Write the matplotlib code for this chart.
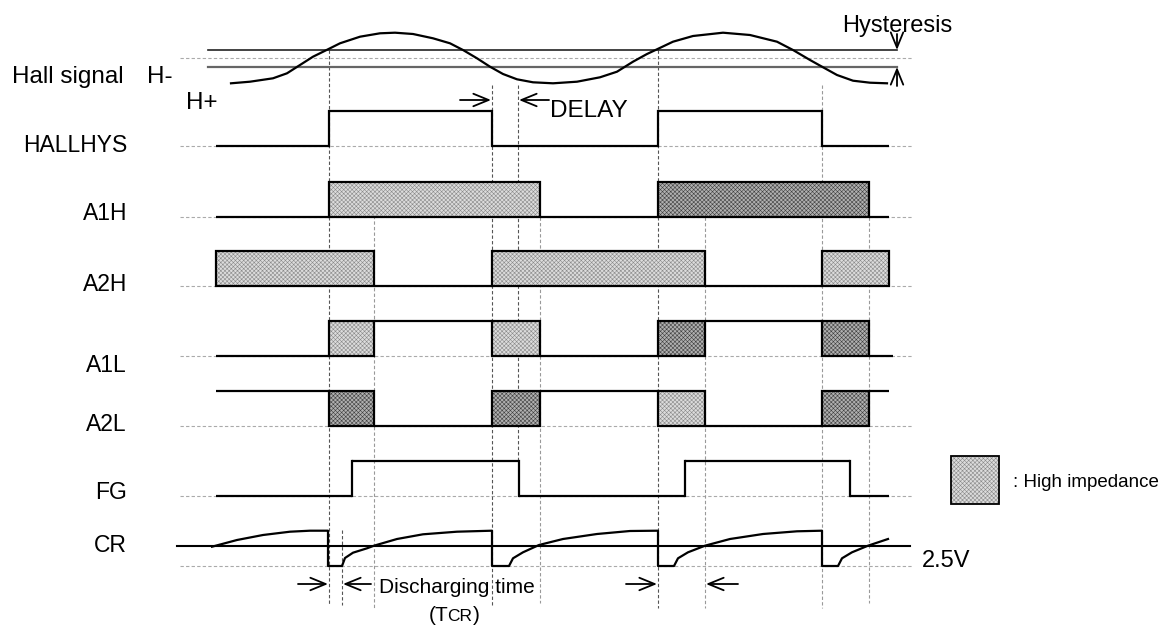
import matplotlib.pyplot as plt
from matplotlib.patches import Rectangle

plt.rcParams['font.family'] = ['Liberation Sans', 'DejaVu Sans']
plt.rcParams['hatch.linewidth'] = 0.4

# Hall signal (x, y in picture units)
hall_x = [231, 250, 273, 287, 300, 313, 328, 340, 360, 380, 395, 413, 433, 450, 463, 477,
          490, 503, 517, 533, 553, 577, 600, 617, 633, 647, 657, 673, 693, 723, 750, 777,
          793, 810, 822, 837, 853, 870, 887]
hall_y = [83.3, 81.7, 78.3, 73.3, 65, 56.7, 49.3, 43.3, 36.7, 33.3, 32.7, 34, 38.3, 43.3, 50, 58.3,
          66.7, 74, 79.3, 82.3, 83.3, 81.7, 77.3, 71.7, 61.7, 54, 49.3, 41.7, 36, 32.7, 35, 41.7,
          50, 60, 66.7, 75, 80.7, 82.7, 83.3]
hyst_hi = 50      # H- threshold
hyst_mid = 58.3
hyst_lo = 66.7    # H+ threshold

# CR waveform
cr_x = [212, 237, 263, 290, 310, 328, 328, 342, 342, 345, 353, 367, 374, 397, 423, 457, 492,
        492, 509, 509, 513, 523, 539, 563, 597, 630, 658, 658, 674, 674, 678, 688, 705, 730,
        763, 797, 822, 822, 838, 838, 842, 852, 868, 888]
cr_y = [546.7, 540, 535, 531.7, 530.7, 530.7, 566, 566, 566, 558, 552.7, 548.3, 545.7, 539,
        534.3, 531.7, 530.7, 566, 566, 566, 558.3, 552.3, 545, 539, 534, 531, 530.7, 566, 566,
        566, 558.3, 552.3, 545.7, 539, 534, 531.3, 530.7, 566, 566, 566, 558.3, 552.3, 545.7, 539]
cr_ref = 545.7    # 2.5V
cr_low = 566

# digital signals: (state, start, end)  L=low H=high Z=high impedance (light) D=high impedance (dark)
names = ['HALLHYS', 'A1H', 'A2H', 'A1L', 'A2L', 'FG']
hallhys = [('L', 216, 329), ('H', 329, 492), ('L', 492, 658), ('H', 658, 822), ('L', 822, 889)]
a1h = [('L', 216, 329), ('Z', 329, 540), ('L', 540, 658), ('D', 658, 869), ('L', 869, 889)]
a2h = [('Z', 216, 374), ('L', 374, 492), ('Z', 492, 705), ('L', 705, 822), ('Z', 822, 889)]
a1l = [('L', 216, 329), ('Z', 329, 374), ('H', 374, 492), ('Z', 492, 540), ('L', 540, 658),
       ('D', 658, 705), ('H', 705, 822), ('D', 822, 869), ('L', 869, 893)]
a2l = [('H', 216, 329), ('D', 329, 374), ('L', 374, 492), ('D', 492, 540), ('H', 540, 658),
       ('Z', 658, 705), ('L', 705, 822), ('D', 822, 869), ('H', 869, 889)]
fg = [('L', 216, 352), ('H', 352, 519), ('L', 519, 685), ('H', 685, 850), ('L', 850, 889)]
signals = [hallhys, a1h, a2h, a1l, a2l, fg]

# row layout
row_low = [146, 217, 286, 356, 426, 496]
row_h = 35
label_base = [151.7, 220, 291, 371.7, 430.7, 499]

# dashed timing markers: (x, top, bottom, dark?)
markers = [(329, 50, 605, True), (342, 530, 605, True), (374, 182, 608, False),
           (492, 85, 605, True), (518, 85, 461, True), (540, 217, 603, False),
           (658, 50, 608, True), (705, 217, 608, False), (822, 85, 608, False),
           (869, 217, 603, False)]

fills = {'Z': ('#dcdcdc', '#8a8a8a'), 'D': ('#b0b0b0', '#404040')}
LW = 1.6

fig = plt.figure(figsize=(11.71, 6.25), dpi=100)
ax = fig.add_axes([0, 0, 1, 1])
ax.set_xlim(0, 1171)
ax.set_ylim(625, 0)
ax.axis('off')


def hz_box(x0, x1, ytop, h, kind, lw=LW):
    fc, hc = fills[kind]
    ax.add_patch(Rectangle((x0, ytop), x1 - x0, h, facecolor=fc,
                           edgecolor=hc, hatch='xxxxxxxx', lw=0, zorder=2))
    ax.add_patch(Rectangle((x0, ytop), x1 - x0, h, fill=False,
                           edgecolor='black', lw=lw, zorder=4))


# grey reference lines
for y in row_low + [cr_low]:
    ax.plot([180, 912], [y, y], color='#aaaaaa', lw=0.8, ls=(0, (3, 2)), zorder=1)
ax.plot([180, 912], [hyst_mid, hyst_mid], color='#aaaaaa', lw=0.8, ls=(0, (3, 2)), zorder=1)

for x, y0, y1, dark in markers:
    ax.plot([x, x], [y0, y1], color='#555555' if dark else '#999999', lw=0.8,
            ls=(0, (3, 2)), zorder=1)

# hall signal
ax.plot([208, 897], [hyst_hi, hyst_hi], color='#222222', lw=1.2, zorder=3)
ax.plot([208, 897], [hyst_lo, hyst_lo], color='#666666', lw=1.6, zorder=3)
ax.plot(hall_x, hall_y, color='black', lw=LW, zorder=4)

# digital rows
for sig, ylow in zip(signals, row_low):
    prev = None
    for state, x0, x1 in sig:
        if state in fills:
            hz_box(x0, x1, ylow - row_h, row_h, state)
        else:
            y = ylow if state == 'L' else ylow - row_h
            ax.plot([x0, x1], [y, y], color='black', lw=LW, zorder=4,
                    solid_capstyle='butt')
            if prev in ('L', 'H') and prev != state:
                ax.plot([x0, x0], [ylow, ylow - row_h], color='black', lw=LW, zorder=4)
        prev = state

# CR
ax.plot([177, 910], [cr_ref, cr_ref], color='black', lw=1.5, zorder=3)
ax.plot(cr_x, cr_y, color='black', lw=LW, zorder=4)

# labels
fs = 16.5
ax.text(12, 83.3, 'Hall signal', fontsize=17.5, va='baseline')
ax.text(147, 83.3, 'H-', fontsize=17.5, va='baseline')
ax.text(186, 109, 'H+', fontsize=17.5, va='baseline')
for name, yb in zip(names, label_base):
    ax.text(127, yb, name, fontsize=fs, ha='right', va='baseline')
ax.text(127, 552, 'CR', fontsize=fs, ha='right', va='baseline')

ax.text(842, 31.7, 'Hysteresis', fontsize=17, va='baseline')
ax.text(550, 117.3, 'DELAY', fontsize=17.5, va='baseline')
ax.text(922, 566.7, '2.5V', fontsize=17, va='baseline')
ax.text(379, 593.3, 'Discharging time', fontsize=15, va='baseline')
ax.text(429, 621, '(T', fontsize=15, va='baseline')
ax.text(447, 621, 'CR', fontsize=12.5, va='baseline')
ax.text(473, 621, ')', fontsize=15, va='baseline')

# legend
hz_box(951, 999, 456, 48, 'Z', lw=1.3)
ax.text(1013, 486.7, ': High impedance', fontsize=13.5, va='baseline')

# arrows
arrows = [((460, 100), (491, 100)), ((549, 100), (519, 100)),
          ((897, 34), (897, 50)), ((897, 86), (897, 67)),
          ((298, 584), (328, 584)), ((371, 584), (343, 584)),
          ((626, 584), (657, 584)), ((738, 584), (706, 584))]
for tail, head in arrows:
    ax.annotate('', xy=head, xytext=tail,
                arrowprops=dict(arrowstyle='->,head_length=1.1,head_width=0.45',
                                mutation_scale=10, lw=1.3, color='black',
                                shrinkA=0, shrinkB=0))

fig.savefig('out.png', dpi=100)
